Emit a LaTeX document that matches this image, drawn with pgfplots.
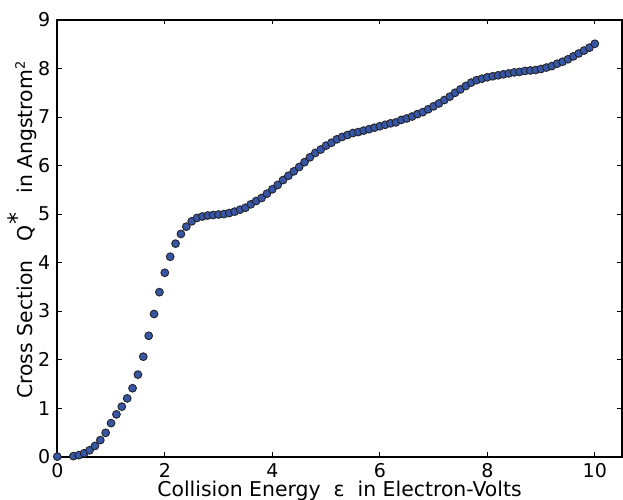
\documentclass[border=0pt]{standalone}
\usepackage{fontspec}
\setmainfont{DejaVu Sans}
\usepackage{pgfplots}
\pgfplotsset{compat=1.18}
\definecolor{dotblue}{RGB}{55,86,166}
\definecolor{dotedge}{RGB}{35,35,40}

\begin{document}
\begin{tikzpicture}
  \begin{axis}[
    at={(0,0)}, anchor=south west,
    scale only axis,
    width=282.2pt, height=218.3pt,
    xmin=0, xmax=10.5,
    ymin=0, ymax=9,
    xtick={0,2,4,6,8,10},
    ytick={0,1,2,3,4,5,6,7,8,9},
    tick pos=both,
    tick align=inside,
    major tick length=2.2pt,
    minor tick num=0,
    every tick/.style={black, line width=0.5pt},
    axis line style={black, line width=1pt},
    tick label style={font=\fontsize{9.5}{10}\selectfont},
    /pgf/number format/assume math mode=true,
    xlabel={Collision Energy\ \ ε\ \ in Electron-Volts},
    ylabel={Cross Section\ \ \ Q\raisebox{0.55ex}{\fontsize{12}{12}\selectfont *}\ \ \ in Angstrom\textsuperscript{\fontsize{6.5}{7}\selectfont 2}},
    label style={font=\fontsize{10.2}{12}\selectfont},
    xlabel style={at={(axis description cs:0.5,-0.0923)}, anchor=base},
    ylabel style={at={(axis description cs:-0.0448,0.52)}, anchor=base, rotate=0},
    clip=false,
  ]
    \addplot[only marks, mark=*, mark size=1.95pt,
             mark options={fill=dotblue, draw=dotedge, line width=0.45pt}]
      coordinates {
        (0,0) (0.3,0.01) (0.4,0.03) (0.5,0.07) (0.6,0.13) (0.7,0.22)
        (0.8,0.34) (0.9,0.49) (1.0,0.69) (1.1,0.87) (1.2,1.03) (1.3,1.20)
        (1.4,1.41) (1.5,1.69) (1.6,2.06) (1.7,2.49) (1.8,2.94) (1.9,3.39)
        (2.0,3.79) (2.1,4.12) (2.2,4.39) (2.3,4.59) (2.4,4.74) (2.5,4.85)
        (2.6,4.92) (2.7,4.95) (2.8,4.97) (2.9,4.98) (3.0,4.99) (3.1,5.00)
        (3.2,5.02) (3.3,5.05) (3.4,5.09) (3.5,5.13) (3.6,5.20) (3.7,5.27)
        (3.8,5.33) (3.9,5.42) (4.0,5.51) (4.1,5.60) (4.2,5.70) (4.3,5.79)
        (4.4,5.88) (4.5,5.97) (4.6,6.07) (4.7,6.17) (4.8,6.26) (4.9,6.33)
        (5.0,6.41) (5.1,6.47) (5.2,6.54) (5.3,6.59) (5.4,6.63) (5.5,6.67)
        (5.6,6.69) (5.7,6.72) (5.8,6.75) (5.9,6.78) (6.0,6.81) (6.1,6.84)
        (6.2,6.87) (6.3,6.89) (6.4,6.94) (6.5,6.97) (6.6,7.01) (6.7,7.06)
        (6.8,7.10) (6.9,7.16) (7.0,7.22) (7.1,7.28) (7.2,7.35) (7.3,7.42)
        (7.4,7.50) (7.5,7.57) (7.6,7.64) (7.7,7.71) (7.8,7.76) (7.9,7.79)
        (8.0,7.82) (8.1,7.84) (8.2,7.86) (8.3,7.88) (8.4,7.90) (8.5,7.92)
        (8.6,7.93) (8.7,7.95) (8.8,7.96) (8.9,7.97) (9.0,7.99) (9.1,8.02)
        (9.2,8.05) (9.3,8.10) (9.4,8.14) (9.5,8.19) (9.6,8.25) (9.7,8.31)
        (9.8,8.37) (9.9,8.43) (10.0,8.51)
      };
  \end{axis}
  \pgfresetboundingbox
  \path[use as bounding box] (-28.65pt,-21.65pt) rectangle (282.85pt,228.3pt);
\end{tikzpicture}
\end{document}
